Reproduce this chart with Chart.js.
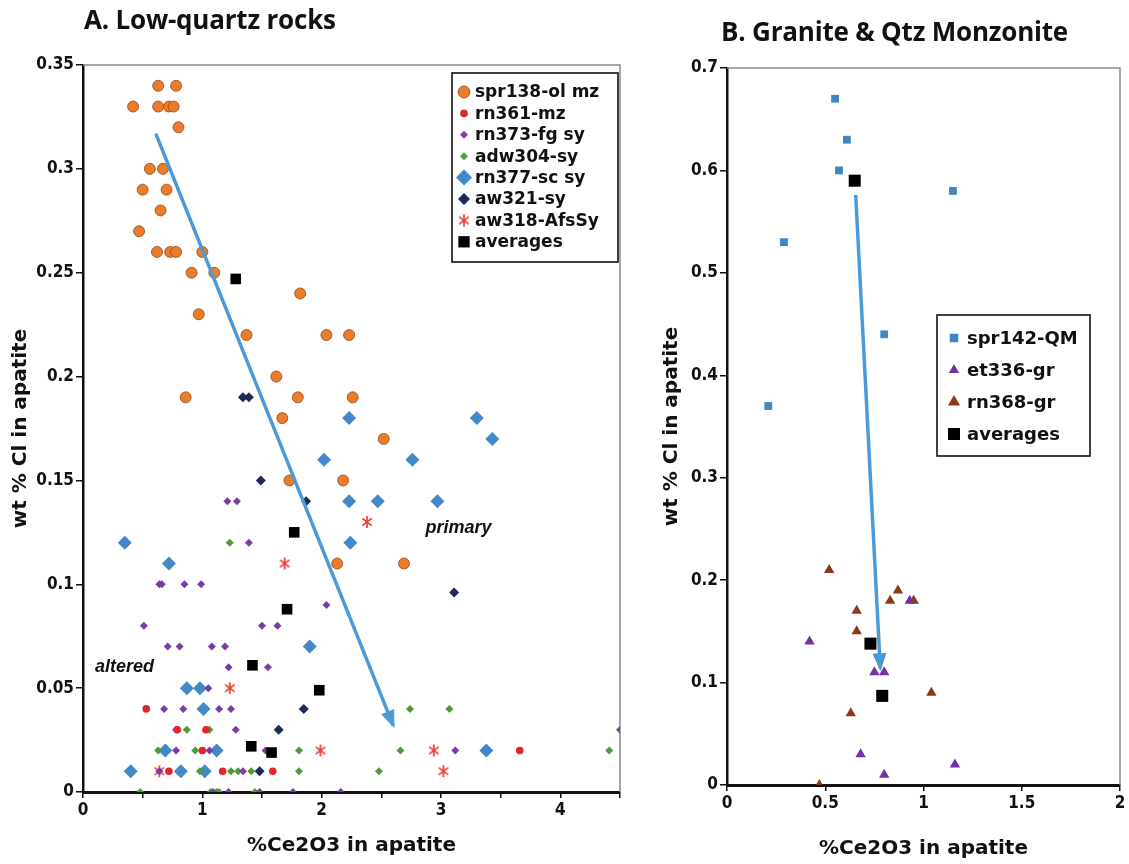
<!DOCTYPE html>
<html>
<head>
<meta charset="utf-8">
<title>Cl vs Ce2O3 in apatite</title>
<script src="https://cdn.jsdelivr.net/npm/chart.js@4.4.1/dist/chart.umd.min.js"></script>
<style>
    body { margin: 0; background: #fff; width: 1129px; height: 864px; position: relative; overflow: hidden; }
    canvas { position: absolute; top: 0; }
    .title { position: absolute; font: 700 26px "Open Sans", "DejaVu Sans", sans-serif; color: #111; white-space: nowrap; letter-spacing: -0.2px; }
</style>
</head>
<body>
<canvas id="chartA" width="640" height="864" style="left:0;width:640px;height:864px"></canvas>
<canvas id="chartB" width="469" height="864" style="left:660px;width:469px;height:864px"></canvas>
<div class="title" style="left:84px;top:1px">A. Low-quartz rocks</div>
<div class="title" style="left:721px;top:13px">B. Granite &amp; Qtz Monzonite</div>
<script>
// ---- A. low-quartz rocks : %Ce2O3 (x) vs wt % Cl (y) ----
const spr138X = [0.63, 0.78, 0.42, 0.63, 0.72, 0.76, 0.80, 0.56, 0.67, 0.50, 0.70, 0.65, 0.47, 0.62, 0.73, 0.78, 1.00,
    0.91, 1.10, 1.82, 0.97, 1.37, 2.04, 2.23, 1.62, 0.86, 1.80, 2.26, 1.67, 2.52, 1.73, 2.18, 2.13, 2.69];
const spr138Y = [0.34, 0.34, 0.33, 0.33, 0.33, 0.33, 0.32, 0.30, 0.30, 0.29, 0.29, 0.28, 0.27, 0.26, 0.26, 0.26, 0.26,
    0.25, 0.25, 0.24, 0.23, 0.22, 0.22, 0.22, 0.20, 0.19, 0.19, 0.19, 0.18, 0.17, 0.15, 0.15, 0.11, 0.11];

const rn361X = [0.53, 0.79, 1.03, 1.00, 0.72, 1.17, 1.59, 3.66];
const rn361Y = [0.04, 0.03, 0.03, 0.02, 0.01, 0.01, 0.01, 0.02];

const rn373X = [1.21, 1.29, 1.39, 0.64, 0.66, 0.85, 0.99, 2.04, 0.51, 1.50, 1.63, 0.71, 0.81, 1.08, 1.19, 1.22, 1.55, 1.05,
    0.68, 0.84, 1.14, 1.24, 0.78, 1.28, 0.78, 1.06, 1.53, 3.12, 4.50, 0.64, 1.34, 1.09, 1.22, 1.48, 1.76, 2.16];
const rn373Y = [0.14, 0.14, 0.12, 0.10, 0.10, 0.10, 0.10, 0.09, 0.08, 0.08, 0.08, 0.07, 0.07, 0.07, 0.07, 0.06, 0.06, 0.05,
    0.04, 0.04, 0.04, 0.04, 0.03, 0.03, 0.02, 0.02, 0.02, 0.02, 0.03, 0.01, 0.01, 0, 0, 0, 0, 0];

const adw304X = [1.23, 0.87, 1.06, 0.63, 0.94, 1.81, 0.98, 1.24, 1.30, 1.41, 1.81, 0.48, 1.07, 1.12, 1.14, 1.44,
    2.74, 3.07, 2.66, 4.41, 2.48];
const adw304Y = [0.12, 0.03, 0.03, 0.02, 0.02, 0.02, 0.01, 0.01, 0.01, 0.01, 0.01, 0, 0, 0, 0, 0,
    0.04, 0.04, 0.02, 0.02, 0.01];

const rn377X = [2.23, 3.30, 3.43, 2.02, 2.76, 2.23, 2.47, 2.97, 0.35, 2.24, 0.72, 1.90, 0.87, 0.98, 1.01, 0.69, 1.12,
    3.38, 0.40, 0.82, 1.02];
const rn377Y = [0.18, 0.18, 0.17, 0.16, 0.16, 0.14, 0.14, 0.14, 0.12, 0.12, 0.11, 0.07, 0.05, 0.05, 0.04, 0.02, 0.02,
    0.02, 0.01, 0.01, 0.01];

const aw321X = [1.34, 1.39, 1.49, 1.87, 3.11, 1.85, 1.64, 1.48];
const aw321Y = [0.19, 0.19, 0.15, 0.14, 0.096, 0.04, 0.03, 0.01];

const aw318X = [2.38, 1.69, 1.23, 1.99, 2.94, 3.02, 0.64];
const aw318Y = [0.13, 0.11, 0.05, 0.02, 0.02, 0.01, 0.01];

const avgAX = [1.28, 1.77, 1.71, 1.42, 1.98, 1.41, 1.58];
const avgAY = [0.247, 0.125, 0.088, 0.061, 0.049, 0.022, 0.019];

const trendAX = [0.61, 2.60];
const trendAY = [0.317, 0.032];

// ---- B. granite & qtz monzonite ----
const spr142X = [0.55, 0.61, 0.57, 1.15, 0.29, 0.80, 0.21];
const spr142Y = [0.67, 0.63, 0.60, 0.58, 0.53, 0.44, 0.37];

const et336X = [0.42, 0.75, 0.80, 0.93, 0.68, 1.16, 0.80];
const et336Y = [0.14, 0.11, 0.11, 0.18, 0.03, 0.02, 0.01];

const rn368X = [0.52, 0.87, 0.83, 0.95, 0.66, 0.66, 1.04, 0.63, 0.47];
const rn368Y = [0.21, 0.19, 0.18, 0.18, 0.17, 0.15, 0.09, 0.07, 0];

const avgBX = [0.65, 0.73, 0.79];
const avgBY = [0.59, 0.138, 0.087];

const trendBX = [0.655, 0.78];
const trendBY = [0.576, 0.114];

const xTitle = '%Ce2O3 in apatite';
const yTitle = 'wt % Cl in apatite';


const pointsOf = (xs, ys) => xs.map((x, i) => ({ x: x, y: ys[i] }));

// red six-spoke star marker
function asterisk(size, color) {
    const c = document.createElement('canvas');
    c.width = size;
    c.height = size;
    const g = c.getContext('2d');
    g.strokeStyle = color;
    g.lineWidth = 1.7;
    const m = size / 2, r = size / 2 - 1;
    [90, 38, 142].forEach(deg => {
        const a = deg * Math.PI / 180;
        g.beginPath();
        g.moveTo(m - r * Math.cos(a), m - r * Math.sin(a));
        g.lineTo(m + r * Math.cos(a), m + r * Math.sin(a));
        g.stroke();
    });
    return c;
}

const tickFont = { family: '"DejaVu Sans Condensed", "DejaVu Sans", sans-serif', size: 17, weight: 'bold' };
const titleFont = { family: '"DejaVu Sans", sans-serif', size: 20, weight: 'bold' };

// thin grey frame on top / right of the plot
const plotFrame = {
    id: 'plotFrame',
    beforeDatasetsDraw(chart) {
        const { ctx, chartArea: a } = chart;
        ctx.save();
        ctx.strokeStyle = '#8a8a8a';
        ctx.lineWidth = 1.5;
        ctx.beginPath();
        ctx.moveTo(a.left, a.top);
        ctx.lineTo(a.right, a.top);
        ctx.lineTo(a.right, a.bottom);
        ctx.stroke();
        ctx.restore();
    }
};

// filled head at the end of every trend arrow
const arrowHeads = {
    id: 'arrowHeads',
    afterDatasetsDraw(chart) {
        const ctx = chart.ctx;
        chart.data.datasets.forEach((d, i) => {
            if (!d.arrow) return;
            const pts = chart.getDatasetMeta(i).data;
            const a = pts[pts.length - 2], b = pts[pts.length - 1];
            const ang = Math.atan2(b.y - a.y, b.x - a.x);
            ctx.save();
            ctx.fillStyle = d.borderColor;
            ctx.translate(b.x, b.y);
            ctx.rotate(ang);
            ctx.beginPath();
            ctx.moveTo(3, 0);
            ctx.lineTo(-15, -7);
            ctx.lineTo(-15, 7);
            ctx.closePath();
            ctx.fill();
            ctx.restore();
        });
    }
};

// italic notes placed in data coordinates
const notes = {
    id: 'notes',
    afterDatasetsDraw(chart, args, opts) {
        if (!opts.items) return;
        const { ctx, scales } = chart;
        ctx.save();
        ctx.font = opts.font;
        ctx.fillStyle = '#111';
        ctx.textBaseline = 'middle';
        opts.items.forEach(n => {
            ctx.fillText(n.text, scales.x.getPixelForValue(n.x), scales.y.getPixelForValue(n.y));
        });
        ctx.restore();
    }
};

// boxed legend drawn inside the plot
const boxLegend = {
    id: 'boxLegend',
    afterDraw(chart, args, o) {
        const ctx = chart.ctx;
        const sets = chart.data.datasets.filter(d => !d.arrow);
        ctx.save();
        ctx.fillStyle = '#fff';
        ctx.fillRect(o.left, o.top, o.width, o.height);
        ctx.strokeStyle = '#111';
        ctx.lineWidth = 1.6;
        ctx.strokeRect(o.left, o.top, o.width, o.height);
        ctx.font = o.font;
        ctx.textBaseline = 'middle';
        sets.forEach((d, i) => {
            const y = o.top + o.firstRow + i * o.rowHeight;
            ctx.fillStyle = d.backgroundColor;
            ctx.strokeStyle = d.borderColor;
            ctx.lineWidth = d.borderWidth || 0;
            Chart.helpers.drawPoint(ctx, {
                pointStyle: d.pointStyle,
                radius: d.legendRadius || d.pointRadius,
                rotation: 0,
                borderWidth: d.borderWidth || 0
            }, o.markerX, y);
            ctx.fillStyle = '#111';
            ctx.fillText(d.label, o.textX, y + 1);
        });
        ctx.restore();
    }
};

function series(label, xs, ys, style) {
    return Object.assign({ label: label, data: pointsOf(xs, ys), borderWidth: 0, order: 2 }, style);
}

function trend(xs, ys) {
    return {
        label: 'trend', arrow: true, data: pointsOf(xs, ys), showLine: true,
        borderColor: '#4a9ad8', borderWidth: 3.5, pointRadius: 0, order: 1
    };
}

function scales(xMax, yMax, yStep, yWidth, xHeight, yTitlePad, xTitlePad, allXLabels) {
    return {
        x: {
            type: 'linear', min: 0, max: xMax,
            afterFit: s => { s.height = xHeight; },
            ticks: {
                stepSize: 0.5, color: '#111', font: tickFont, padding: 2,
                callback: v => (allXLabels || Number.isInteger(v)) ? String(v) : ''
            },
            grid: { drawOnChartArea: false, color: '#111', lineWidth: 1.5, tickLength: 6 },
            border: { color: '#111', width: 3 },
            title: { display: true, text: xTitle, color: '#111', font: titleFont, padding: { bottom: xTitlePad } }
        },
        y: {
            type: 'linear', min: 0, max: yMax,
            afterFit: s => { s.width = yWidth; },
            ticks: {
                stepSize: yStep, color: '#111', font: tickFont, padding: 2,
                callback: v => String(Math.round(v * 100) / 100)
            },
            grid: { drawOnChartArea: false, color: '#111', lineWidth: 1.5, tickLength: 7 },
            border: { color: '#111', width: 2.5 },
            title: { display: true, text: yTitle, color: '#111', font: titleFont, padding: { top: yTitlePad } }
        }
    };
}

const star = asterisk(14, '#ee3b30');

new Chart(document.getElementById('chartA'), {
    type: 'scatter',
    data: {
        datasets: [
            series('spr138-ol mz', spr138X, spr138Y, { pointStyle: 'circle', pointRadius: 5.5, legendRadius: 6, backgroundColor: '#ec7c2a', borderColor: '#8a4a1c', borderWidth: 0.8 }),
            series('rn361-mz', rn361X, rn361Y, { pointStyle: 'circle', pointRadius: 3.8, backgroundColor: '#e3252d', borderColor: '#e3252d' }),
            series('rn373-fg sy', rn373X, rn373Y, { pointStyle: 'rectRot', pointRadius: 4, backgroundColor: '#7b3ca8', borderColor: '#7b3ca8' }),
            series('adw304-sy', adw304X, adw304Y, { pointStyle: 'rectRot', pointRadius: 4, backgroundColor: '#4e9a3c', borderColor: '#4e9a3c' }),
            series('rn377-sc sy', rn377X, rn377Y, { pointStyle: 'rectRot', pointRadius: 7, legendRadius: 8, backgroundColor: '#4388c8', borderColor: '#4388c8' }),
            series('aw321-sy', aw321X, aw321Y, { pointStyle: 'rectRot', pointRadius: 5, legendRadius: 6, backgroundColor: '#1d2b5c', borderColor: '#1d2b5c' }),
            series('aw318-AfsSy', aw318X, aw318Y, { pointStyle: star, pointRadius: 7, backgroundColor: '#ee3b30', borderColor: '#ee3b30' }),
            series('averages', avgAX, avgAY, { pointStyle: 'rect', pointRadius: 7.5, legendRadius: 8, backgroundColor: '#000', borderColor: '#000', order: 0 }),
            trend(trendAX, trendAY)
        ]
    },
    options: {
        responsive: false,
        devicePixelRatio: 1,
        animation: false,
        events: [],
        layout: { padding: { top: 65, right: 20, bottom: 0, left: 0 } },
        scales: scales(4.5, 0.35, 0.05, 83, 72, 9, 6, false),
        plugins: {
            legend: { display: false },
            tooltip: { enabled: false },
            notes: {
                font: 'italic bold 18px "Liberation Sans", sans-serif',
                items: [{ text: 'altered', x: 0.1, y: 0.06 }, { text: 'primary', x: 2.87, y: 0.127 }]
            },
            boxLegend: {
                left: 452, top: 73, width: 166, height: 189, firstRow: 19, rowHeight: 21.4,
                markerX: 464, textX: 475, font: 'bold 17px "DejaVu Sans", sans-serif'
            }
        }
    },
    plugins: [plotFrame, arrowHeads, notes, boxLegend]
});

new Chart(document.getElementById('chartB'), {
    type: 'scatter',
    data: {
        datasets: [
            series('spr142-QM', spr142X, spr142Y, { pointStyle: 'rect', pointRadius: 5.5, legendRadius: 6, backgroundColor: '#3d86c6', borderColor: '#3d86c6' }),
            series('et336-gr', et336X, et336Y, { pointStyle: 'triangle', pointRadius: 6, backgroundColor: '#7431a4', borderColor: '#7431a4' }),
            series('rn368-gr', rn368X, rn368Y, { pointStyle: 'triangle', pointRadius: 6, legendRadius: 7, backgroundColor: '#8a3a14', borderColor: '#8a3a14' }),
            series('averages', avgBX, avgBY, { pointStyle: 'rect', pointRadius: 8.5, legendRadius: 8.5, backgroundColor: '#000', borderColor: '#000', order: 0 }),
            trend(trendBX, trendBY)
        ]
    },
    options: {
        responsive: false,
        devicePixelRatio: 1,
        animation: false,
        events: [],
        layout: { padding: { top: 68, right: 9, bottom: 0, left: 0 } },
        scales: scales(2, 0.7, 0.1, 67, 79, 0, 3, true),
        plugins: {
            legend: { display: false },
            tooltip: { enabled: false },
            boxLegend: {
                left: 277, top: 315, width: 153, height: 141, firstRow: 23, rowHeight: 32,
                markerX: 294, textX: 307, font: 'bold 18px "DejaVu Sans", sans-serif'
            }
        }
    },
    plugins: [plotFrame, arrowHeads, boxLegend]
});
</script>
</body>
</html>
